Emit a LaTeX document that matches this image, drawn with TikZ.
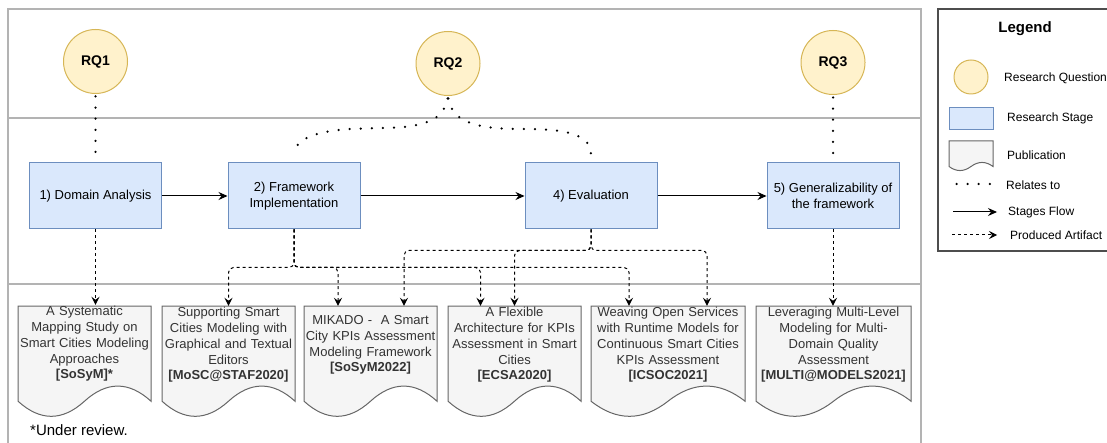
\documentclass[tikz,border=0pt]{standalone}
\usepackage{fontspec}
\setmainfont{Liberation Sans}
\usetikzlibrary{arrows.meta,calc}

\definecolor{rqfill}{HTML}{FFF2CC}
\definecolor{rqdraw}{HTML}{D6B656}
\definecolor{stfill}{HTML}{DAE8FC}
\definecolor{stdraw}{HTML}{6C8EBF}
\definecolor{pbfill}{HTML}{F5F5F5}
\definecolor{pbdraw}{HTML}{666666}
\definecolor{pbtext}{HTML}{333333}
\definecolor{lane}{HTML}{B3B3B3}
\definecolor{legframe}{HTML}{4D4D4D}

% document outline with a wavy bottom: left x, top y, width, height
\newcommand\docpath[4]{(#1,#2) -- ({#1+#3},#2) -- ({#1+#3},{#2+0.85*#4})
  .. controls ({#1+#3*5/6},{#2+0.67*#4}) and ({#1+#3*2/3},{#2+0.67*#4}) .. ({#1+#3/2},{#2+0.85*#4})
  .. controls ({#1+#3/3},{#2+1.03*#4}) and ({#1+#3/6},{#2+1.03*#4}) .. (#1,{#2+0.85*#4}) -- cycle}

\begin{document}
\begin{tikzpicture}[x=1pt,y=-1pt,
  rq/.style={circle, draw=rqdraw, fill=rqfill, line width=1pt, minimum size=64pt, inner sep=0pt,
    font=\fontsize{14}{16}\selectfont\bfseries},
  stage/.style={rectangle, draw=stdraw, fill=stfill, line width=1pt, minimum width=132pt,
    minimum height=66pt, inner sep=2pt, align=center, font=\fontsize{13}{16.5}\selectfont},
  pubtext/.style={rectangle, inner sep=0pt, minimum height=78pt, align=center, text=pbtext,
    font=\fontsize{13}{15.7}\selectfont},
  pubshape/.style={draw=pbdraw, fill=pbfill, line width=1pt},
  relates/.style={line width=2.5pt, line cap=round, dash pattern=on 0pt off 11.1pt, dash phase=8.6pt},
  flow/.style={line width=1pt, -{Stealth[length=9pt,width=8pt,inset=3pt]}},
  produced/.style={line width=1pt, dash pattern=on 3pt off 3pt, rounded corners=5pt,
    -{Stealth[length=8pt,width=8pt,inset=3pt]}},
  lanes/.style={draw=lane, line width=1.2pt},
  legtext/.style={anchor=west, inner sep=0pt, font=\fontsize{12}{14}\selectfont},
]
\useasboundingbox (0,0) rectangle (1107,443);
\clip (0,0) rectangle (1107,443);

% swimlanes
\draw[lanes] (8,460) |- (921,9) -- (921,460);
\draw[lanes] (8,118) -- (921,118);
\draw[lanes] (8,284) -- (921,284);

% research questions
\node[rq] (rq1) at (95.5,61.5) {RQ1};
\node[rq] (rq2) at (448,63.5) {RQ2};
\node[rq] (rq3) at (833,62.5) {RQ3};

% research stages
\node[stage] (s1) at (95.5,196) {1) Domain Analysis};
\node[stage] (s2) at (294,196) {2) Framework\\Implementation};
\node[stage] (s4) at (591,196) {4) Evaluation};
\node[stage] (s5) at (833,196) {5) Generalizability of\\the framework};

% publications
\draw[pubshape] \docpath{18}{306}{133}{112};
\node[pubtext, text width=133pt] (p1) at (84.5,344)
  {A Systematic\\Mapping Study on\\Smart Cities Modeling\\Approaches\\\textbf{[SoSyM]*}};
\draw[pubshape] \docpath{162}{306}{133}{112};
\node[pubtext, text width=133pt] (p2) at (228.5,345)
  {Supporting Smart\\Cities Modeling with\\Graphical and Textual\\Editors\\\textbf{[MoSC@STAF2020]}};
\draw[pubshape] \docpath{304}{306}{133}{112};
\node[pubtext, text width=133pt] (p3) at (370.5,345)
  {MIKADO -\ \ A Smart\\City KPIs Assessment\\Modeling Framework\\\textbf{[SoSyM2022]}};
\draw[pubshape] \docpath{448}{306}{133}{112};
\node[pubtext, text width=133pt] (p4) at (514.5,345)
  {A Flexible\\Architecture for KPIs\\Assessment in Smart\\Cities\\\textbf{[ECSA2020]}};
\draw[pubshape] \docpath{591}{306}{154}{112};
\node[pubtext, text width=154pt] (p5) at (668,345)
  {Weaving Open Services\\with Runtime Models for\\Continuous Smart Cities\\KPIs Assessment\\\textbf{[ICSOC2021]}};
\draw[pubshape] \docpath{756}{306}{155}{112};
\node[pubtext, text width=155pt] (p6) at (833.5,345)
  {Leveraging Multi-Level\\Modeling for Multi-\\Domain Quality\\Assessment\\\textbf{[MULTI@MODELS2021]}};

% relations between questions and stages
\draw[relates, shorten >=4pt] (rq1) -- (s1);
\draw[relates, shorten >=4pt] (rq3) -- (s5);
\draw[relates] (rq2.south) .. controls (445,120) and (425,128) .. (380,128) -- (365,128.5)
  .. controls (320,129) and (294,138) .. ([yshift=8pt]s2.north);
\draw[relates] (rq2.south) .. controls (451,120) and (470,128) .. (515,129) -- (530,129)
  .. controls (575,129.5) and (591,138) .. ([yshift=8pt]s4.north);

% stage flow
\draw[flow] (s1) -- (s2);
\draw[flow] (s2) -- (s4);
\draw[flow] (s4) -- (s5);

% produced artifacts
\draw[produced] (s1.south) -- (s1.south |- p1.north);
\draw[produced] (s5.south) -- (s5.south |- p6.north);
\draw[produced] (s2.south) -- ++(0,38) -| (p2.north);
\draw[produced] (s2.south) -- ++(0,38) -| ([xshift=-32.5pt]p3.north);
\draw[produced] (s2.south) -- ++(0,38) -| ([xshift=-34pt]p4.north);
\draw[produced] (s2.south) -- ++(0,38) -| ([xshift=-39pt]p5.north);
\draw[produced] (s4.south) -- ++(0,21) -| ([xshift=33.5pt]p3.north);
\draw[produced] (s4.south) -- ++(0,21) -| (p4.north);
\draw[produced] (s4.south) -- ++(0,21) -| ([xshift=39pt]p5.north);

\node[anchor=west, inner sep=0pt, font=\fontsize{15}{18}\selectfont] (note) at (30,430) {*Under review.};

% legend
\draw[draw=legframe, line width=1.2pt] (938,9) rectangle (1125,251);
\node[font=\fontsize{15}{18}\selectfont\bfseries] (legtitle) at (1025,29) {Legend};
\node[rq, minimum size=34pt] (legrq) at (971,77) {};
\node[legtext] (legrqtext) at (1004,78) {Research Question};
\node[stage, minimum width=44pt, minimum height=21.5pt] (legst) at (971,118.5) {};
\node[legtext] (legsttext) at (1007,118) {Research Stage};
\draw[pubshape] \docpath{949}{141}{44}{30};
\node[legtext] (legpbtext) at (1007,155) {Publication};
\draw[relates] (954,184) -- (993,184);
\node[legtext] (legreltext) at (1006,185) {Relates to};
\draw[flow] (953,212) -- (997,212);
\node[legtext] (legflowtext) at (1008,212) {Stages Flow};
\draw[produced] (952,235) -- (997,235);
\node[legtext] (legprodtext) at (1010,235) {Produced Artifact};
\end{tikzpicture}
\end{document}
